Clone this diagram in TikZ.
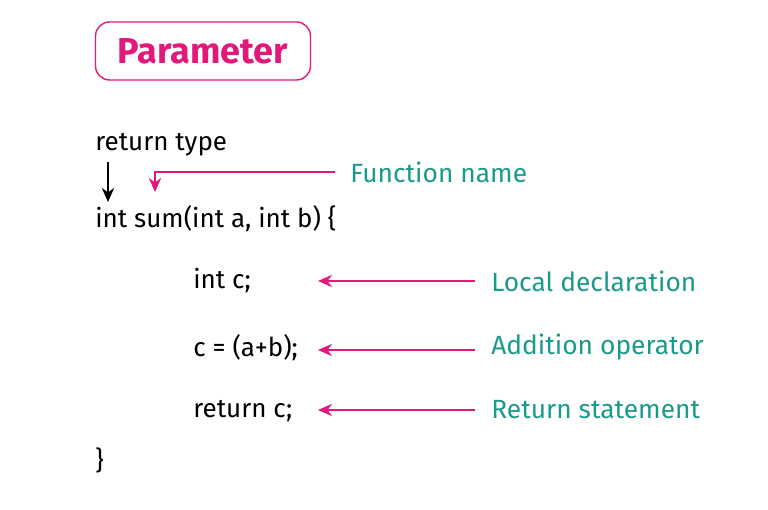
\documentclass[tikz,border=0pt]{standalone}
\usepackage{fontspec}
\setmainfont{Fira Sans}
\usetikzlibrary{arrows.meta}
\definecolor{pinkish}{HTML}{E0197A}
\definecolor{tealish}{HTML}{1A9A8B}

\begin{document}
\begin{tikzpicture}[x=0.02cm, y=-0.02cm]

\tikzset{code/.style={anchor=west, inner sep=0pt, font=\fontsize{14.8}{17}\selectfont},
    note/.style={code, text=tealish, font=\fontsize{15}{17}\selectfont},
    pline/.style={draw=pinkish, line width=1.1pt, -{Stealth[length=8pt,width=7pt]}}}

    \useasboundingbox (0,0) rectangle (768,510);
    % Place nodes
    \node [draw=pinkish, line width=0.8pt, rounded corners=8pt, minimum width=215*0.02cm,
        minimum height=58*0.02cm, text=pinkish, font=\fontsize{20.5}{24}\selectfont\bfseries] (param) at (203,51) {Parameter};
    \node [code] (rtype) at (95,145) {return type};
    \node [code] (head) at (95,219) {int sum(int a, int b) \{};
    \node [code] (decl) at (193,281) {int c;};
    \node [code] (add) at (193,348) {c = (a+b);};
    \node [code] (ret) at (193,411) {return c;};
    \node [code] (close) at (95,460) {\}};
    \node [note] (fname) at (350,172) {Function name};
    \node [note] (ldecl) at (491,281) {Local declaration};
    \node [note] (aop) at (491,347) {Addition operator};
    \node [note] (rstat) at (491,410) {Return statement};
    \coordinate (fn) at (155,192);
    % Draw edges
    \draw [line width=1.1pt, -{Stealth[length=8pt,width=7pt]}] (108,162) -- (108,202);
    \draw [pline] (335,172) -| (fn);
    \draw [pline] (475,281) -- (318,281);
    \draw [pline] (475,350) -- (318,350);
    \draw [pline] (475,410) -- (318,410);
\end{tikzpicture}
\end{document}
